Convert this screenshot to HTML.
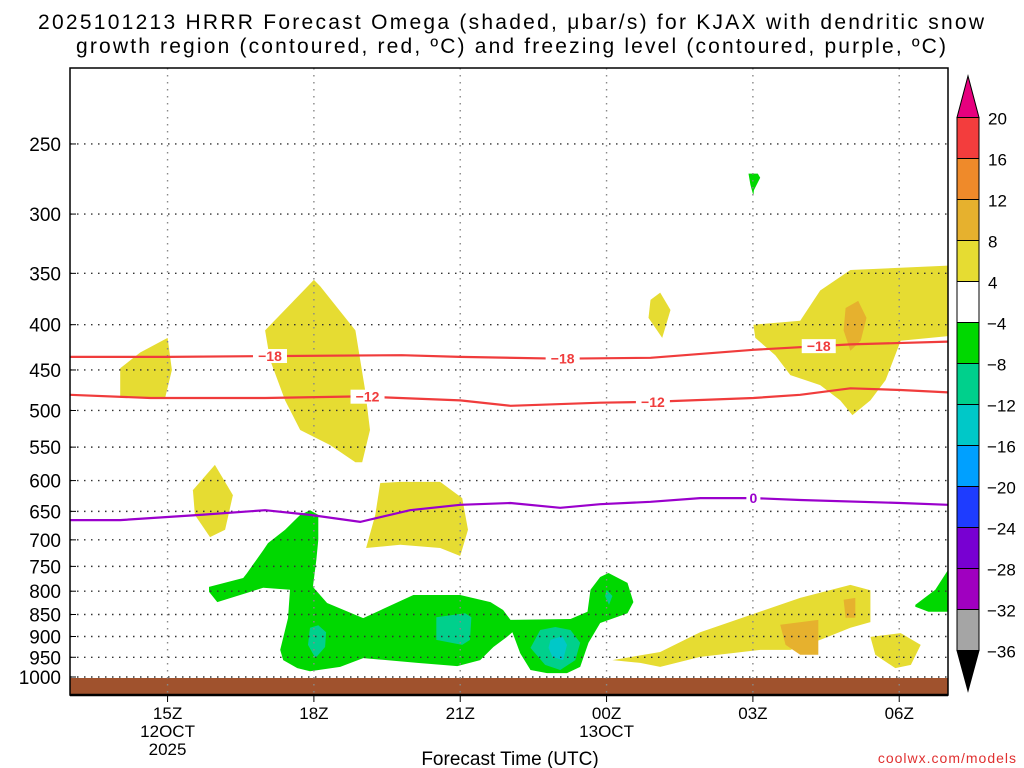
<!DOCTYPE html>
<html><head><meta charset="utf-8"><style>
html,body{margin:0;padding:0;background:#fff}
svg{display:block;font-family:"Liberation Sans",sans-serif}
</style></head><body>
<svg id="chart" width="1024" height="768" viewBox="0 0 1024 768">
<text x="511" y="29" text-anchor="middle" font-size="21" textLength="946">2025101213 HRRR Forecast Omega (shaded, μbar/s) for KJAX with dendritic snow</text>
<text x="511" y="53" text-anchor="middle" font-size="21" textLength="870">growth region (contoured, red, ºC) and freezing level (contoured, purple, ºC)</text>
<g id="plot"></g>
<text x="510" y="765" text-anchor="middle" font-size="19">Forecast Time (UTC)</text>
<text x="1017" y="763" text-anchor="end" font-size="14" fill="#e03030" letter-spacing="1">coolwx.com/models</text>
</svg>
<script>
const hourTicks=[15,18,21,24,27,30];
const hourLabels=["15Z","18Z","21Z","00Z","03Z","06Z"];
const dateLabels={15:["12OCT","2025"],24:["13OCT"]};
const pressureTicks=[250,300,350,400,450,500,550,600,650,700,750,800,850,900,950,1000];
const freezingLevel=[[13,665],[14.03,665],[15.67,656],[17,648],[17.92,656],[18.95,668],[19.97,648],[21,639],[22.03,636],[23.05,644],[23.87,638],[24.9,634],[25.92,628],[27.01,628],[27.97,631],[30.03,636],[31,639]];
const isoMinus18=[[13,435],[15,435],[17,434],[19.8,433],[21,435],[23.05,437],[24.9,436],[27.01,427],[29,421],[31,418]];
const isoMinus12=[[13,480],[14.65,484],[17,484],[18.95,482],[21,487],[22.03,494],[23.87,490],[24.9,489],[27.01,484],[27.97,480],[29,472],[30.03,474],[31,477]];
const freezingLabels=[27.01];
const minus18Labels=[17.1,23.1,28.35];
const minus12Labels=[19.1,24.95];
const levels=[20,16,12,8,4,-4,-8,-12,-16,-20,-24,-28,-32,-36];
const levelColors=["#f33d3d","#ef8a2a","#e6b12e","#e6dc32","#ffffff","#00d800","#00d08c","#00c8c8","#00a0ff","#1e3cff","#7800d2","#a000c0","#a5a5a5"];
const yellowAreas=[
 [[14.03,448],[14.44,430],[15.0,414],[15.09,450],[14.95,484],[14.03,484]],
 [[18,356],[18.13,362],[18.85,406],[19.05,474],[19.15,526],[18.99,572],[18.85,572],[18.33,547],[17.72,526],[17.41,487],[17.1,438],[17,406]],
 [[15.52,615],[15.97,576],[16.34,623],[16.18,682],[15.87,695],[15.56,656]],
 [[19.36,604],[19.77,602],[20.59,602],[21.04,628],[21.16,682],[21,730],[20.59,715],[19.77,709],[19.07,715],[19.26,656]],
 [[24.9,375],[25.1,368],[25.31,385],[25.14,414],[24.86,393]],
 [[27.01,400],[27.97,396],[28.38,366],[29,347],[31,343],[31,412],[30.03,417],[29.72,462],[29.41,487],[29.04,506],[28.79,487],[28.38,468],[27.77,456],[27.46,433],[27.05,414]],
 [[24.12,957],[25.1,937],[25.92,890],[26.95,851],[27.97,814],[29,787],[29.41,798],[29.41,867],[29,880],[28.38,908],[27.77,932],[27.15,932],[25.92,949],[25.1,974],[24.69,964]],
 [[29.41,901],[30.03,892],[30.44,920],[30.24,969],[29.92,977],[29.51,944]]
];
const orangeAreas=[
 [[28.9,383],[29.16,376],[29.33,393],[29.21,417],[29,428],[28.86,406]],
 [[27.56,873],[28.34,862],[28.34,944],[27.97,944],[27.67,920]],
 [[28.86,818],[29.1,814],[29.1,857],[28.9,857]]
];
const greenAreas=[
 [[15.85,791],[16.55,773],[16.63,763],[16.96,719],[17.06,706],[17.41,682],[17.72,656],[17.92,648],[18.09,656],[18.09,700],[18.05,738],[17.98,791],[18.27,825],[19.01,858],[20.04,808],[21,808],[21.62,823],[21.88,840],[22.03,862],[23.26,860],[23.61,844],[23.67,797],[23.87,771],[24.04,763],[24.43,783],[24.55,823],[24.43,847],[23.87,869],[23.63,915],[23.46,974],[23.19,990],[22.78,990],[22.44,982],[22.23,940],[22.07,890],[21.96,901],[21.68,925],[21.41,957],[20.94,972],[20.12,964],[19.01,952],[18.54,974],[17.92,985],[17.66,977],[17.37,957],[17.31,932],[17.41,885],[17.47,858],[17.51,797],[16.96,793],[16.02,823],[15.85,801]],
 [[26.91,270],[27.1,270],[27.15,273],[27.02,282],[27.01,286],[26.95,278]],
 [[30.33,829],[30.74,797],[31,757],[31,844],[30.6,844],[30.33,833]]
];
const tealAreas=[
 [[17.92,880],[18.09,874],[18.25,890],[18.23,925],[18.03,952],[17.88,920]],
 [[20.51,856],[21.1,847],[21.23,856],[21.2,908],[21.04,920],[20.51,908]],
 [[22.64,885],[22.95,878],[23.26,885],[23.46,915],[23.36,957],[23.05,982],[22.74,969],[22.44,927]],
 [[24.0,797],[24.12,810],[24.05,829],[23.97,810]]
];
const cyanAreas=[[[22.85,908],[23.09,899],[23.19,920],[23.11,957],[22.89,949],[22.81,927]]];

const X0=70,X1=948,Y0=68,Y1=695,H0=13,H1=31;
const xs=h=>X0+(h-H0)*(X1-X0)/(H1-H0);
const ys=p=>677-384.5*Math.log(1000/p);
const NS="http://www.w3.org/2000/svg";
const plot=document.getElementById('plot');
function mk(tag,attrs,parent){const e=document.createElementNS(NS,tag);for(const k in attrs)e.setAttribute(k,attrs[k]);(parent||plot).appendChild(e);return e;}
const pts=arr=>arr.map(d=>xs(d[0]).toFixed(1)+','+ys(d[1]).toFixed(1)).join(' ');

function areas(list,color,name){list.forEach((a,i)=>{const e=mk('polygon',{points:pts(a),fill:color});

});}
areas(yellowAreas,levelColors[3],'omega-positive-area');
areas(orangeAreas,levelColors[2],'omega-strong-positive-area');
areas(greenAreas,levelColors[5],'omega-negative-area');
areas(tealAreas,levelColors[6],'omega-strong-negative-area');
areas(cyanAreas,levelColors[7],'omega-very-strong-negative-area');

// ground
const g=mk('rect',{x:X0,y:678,width:X1-X0,height:Y1-678,fill:'#a0522d'});



// grid
pressureTicks.forEach(p=>{const y=ys(p);
 const l=mk('line',{x1:X0,x2:X1,y1:y,y2:y,stroke:'#333','stroke-width':1.4,'stroke-dasharray':'1.5,5.5'});
 
 
 mk('line',{x1:X0,x2:X0+6,y1:y,y2:y,stroke:'#000'});
 const t=mk('text',{x:61,y:y+7,'text-anchor':'end','font-size':19});t.textContent=p;
 
 
});
hourTicks.forEach((h,i)=>{const x=xs(h);
 const l=mk('line',{x1:x,x2:x,y1:Y0,y2:Y1,stroke:'#888','stroke-width':1.4,'stroke-dasharray':'1.5,5.5'});
 
 
 mk('line',{x1:x,x2:x,y1:Y1,y2:Y1+7,stroke:'#000'});
 const t=mk('text',{x:x,y:719,'text-anchor':'middle','font-size':17});t.textContent=hourLabels[i];
 
 
 (dateLabels[h]||[]).forEach((s,j)=>{const d=mk('text',{x:x,y:737+j*18,'text-anchor':'middle','font-size':17});d.textContent=s;
 
 });
});

// contours
function interpY(line,h){for(let i=0;i<line.length-1;i++){if(h>=line[i][0]&&h<=line[i+1][0]){const f=(h-line[i][0])/(line[i+1][0]-line[i][0]);return ys(line[i][1]+f*(line[i+1][1]-line[i][1]));}}return ys(line[0][1]);}
function contour(line,color,name,labels,txt){
 const e=mk('polyline',{points:pts(line),fill:'none',stroke:color,'stroke-width':2.2});
 
 
 labels.forEach(h=>{const x=xs(h),y=interpY(line,h);
  mk('rect',{x:x-txt.length*5-2,y:y-7,width:txt.length*10+4,height:14,fill:'#fff'});
  const t=mk('text',{x:x,y:y+5,'text-anchor':'middle','font-size':14,'font-weight':'bold',fill:color});t.textContent=txt;
  
  });
}
contour(isoMinus18,'#f03c3c','isotherm-minus18',minus18Labels,'−18');
contour(isoMinus12,'#f03c3c','isotherm-minus12',minus12Labels,'−12');
contour(freezingLevel,'#9a00cc','freezing-level',freezingLabels,'0');

// frame
const fr=mk('rect',{x:X0,y:Y0,width:X1-X0,height:Y1-Y0,fill:'none',stroke:'#000','stroke-width':1.5});


mk('line',{x1:X0,x2:X1,y1:Y1,y2:Y1,stroke:'#000','stroke-width':2.5});

// colorbar
const CBX=957,CBW=22,CT=117.5,CS=41;
const cb=mk('g',{});


mk('polygon',{points:`${CBX},${CT} ${CBX+CBW},${CT} ${CBX+CBW/2},76`,fill:'#e6007e',stroke:'#000'},cb);
levelColors.forEach((c,i)=>{mk('rect',{x:CBX,y:CT+i*CS,width:CBW,height:CS,fill:c,stroke:'#000','stroke-width':1},cb);});
const cbBot=CT+levelColors.length*CS;
mk('polygon',{points:`${CBX},${cbBot} ${CBX+CBW},${cbBot} ${CBX+CBW/2},691`,fill:'#000',stroke:'#000'},cb);
levels.forEach((v,i)=>{const t=mk('text',{x:v<0?987:988,y:CT+i*CS+7,'font-size':17},cb);t.textContent=v<0?'−'+(-v):String(v);
 
 });
</script>
</body></html>
